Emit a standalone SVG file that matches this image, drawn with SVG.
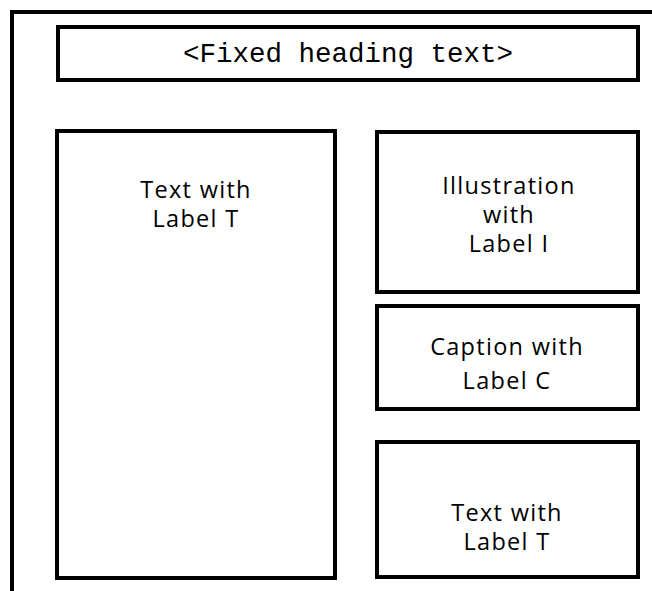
<svg xmlns="http://www.w3.org/2000/svg" width="652" height="591" viewBox="0 0 652 591">
<style>
.box{fill:none;stroke:#000;stroke-width:4}
.lbl{font-family:"Open Sans","Liberation Sans",sans-serif;font-size:23.5px;letter-spacing:1.3px;text-anchor:middle;fill:#000}
.mono{font-family:"Liberation Mono","DejaVu Sans Mono",monospace;font-size:27.5px;text-anchor:middle;fill:#000}
</style>
<rect width="652" height="591" fill="#fff"/>
<g id="frame"><path d="M12,591 V12 H652" fill="none" stroke="#000" stroke-width="4"/></g>
<g id="heading"><rect class="box" x="58" y="27" width="580" height="53"/><text class="mono" x="348" y="62">&lt;Fixed heading text&gt;</text></g>
<g id="textT1"><rect class="box" x="57" y="131" width="278" height="447"/><text class="lbl" x="196" y="198">Text with</text><text class="lbl" x="196" y="227">Label T</text></g>
<g id="illustration"><rect class="box" x="377" y="132" width="261" height="160"/><text class="lbl" x="509" y="194">Illustration</text><text class="lbl" x="509" y="223">with</text><text class="lbl" x="509" y="252">Label I</text></g>
<g id="caption"><rect class="box" x="377" y="306" width="261" height="103"/><text class="lbl" x="507" y="355">Caption with</text><text class="lbl" x="507" y="389">Label C</text></g>
<g id="textT2"><rect class="box" x="377" y="442" width="261" height="135"/><text class="lbl" x="507" y="521">Text with</text><text class="lbl" x="507" y="550">Label T</text></g>
<g id="connectors"/>
</svg>
